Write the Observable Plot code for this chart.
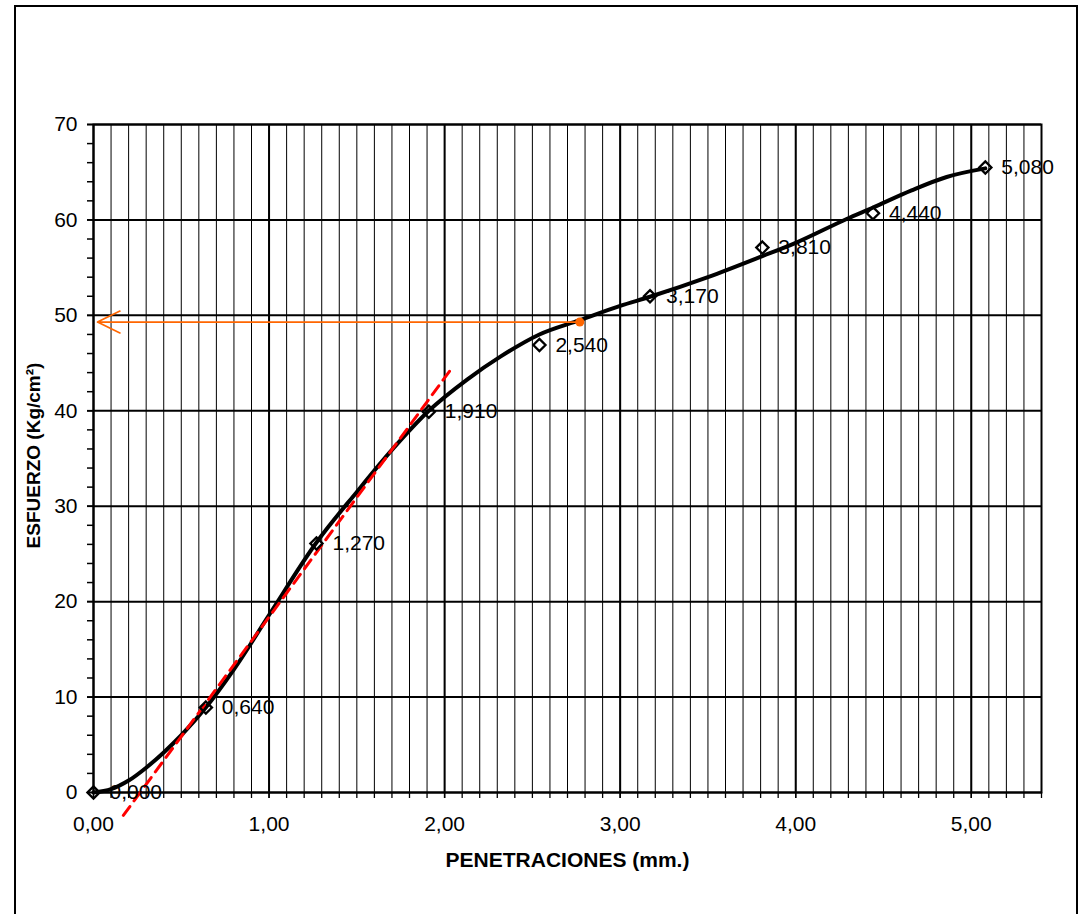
<!DOCTYPE html>
<html>
<head>
<meta charset="utf-8">
<script src="https://cdn.jsdelivr.net/npm/d3@7"></script>
<script src="https://cdn.jsdelivr.net/npm/@observablehq/plot@0.6"></script>
<style>
  html, body { margin: 0; padding: 0; background: #fff; overflow: hidden; }
  #wrap { position: relative; width: 1086px; height: 914px; overflow: hidden; }
  #border { position: absolute; left: 14px; top: 5px; width: 1064px; height: 1000px;
            border: 2px solid #000; box-sizing: border-box; pointer-events: none; }
  #chart { position: absolute; left: 0; top: 0; }
</style>
</head>
<body>
<div id="wrap"><div id="chart"></div><div id="border"></div></div>
<script>
// Measured points (penetración mm, esfuerzo kg/cm²)
const penetracion = [0, 0.64, 1.27, 1.91, 2.54, 3.17, 3.81, 4.44, 5.08];
const esfuerzo    = [0, 8.9, 26.1, 39.9, 46.9, 52.0, 57.1, 60.7, 65.5];
const etiquetas   = ["0,000", "0,640", "1,270", "1,910", "2,540", "3,170", "3,810", "4,440", "5,080"];

// Smoothed fitted curve
const curvaX = [0, 0.10, 0.20, 0.30, 0.40, 0.50, 0.64, 0.80, 1.00, 1.27, 1.50, 1.70, 1.91, 2.13, 2.32, 2.54, 2.77, 3.00, 3.17, 3.50, 3.81, 4.00, 4.29, 4.44, 4.66, 4.86, 5.08];
const curvaY = [0, 0.35, 1.25, 2.6, 4.2, 6.0, 8.9, 12.9, 18.6, 26.2, 31.5, 35.9, 40.0, 43.3, 45.7, 48.0, 49.5, 51.0, 51.95, 54.0, 56.2, 57.6, 60.1, 61.3, 63.1, 64.5, 65.4];

// Tangent (corrección) line
const tangenteX = [0.17, 2.03];
const tangenteY = [-2.4, 44.2];

// Reading at the corrected point
const lecturaX = [2.77];
const lecturaY = [49.3];

// Axis ticks
const xTicks = [0, 1, 2, 3, 4, 5];
const yTicks = [0, 10, 20, 30, 40, 50, 60, 70];
const xMinor = d3.range(0, 55).map(i => i / 10);
const yMinor = d3.range(0, 72, 2);

const puntos = penetracion.map((x, i) => ({x, y: esfuerzo[i], t: etiquetas[i]}));
const curva = curvaX.map((x, i) => ({x, y: curvaY[i]}));
const tangente = tangenteX.map((x, i) => ({x, y: tangenteY[i]}));
const lectura = lecturaX.map((x, i) => ({x, y: lecturaY[i]}));

const fmtX = d => d3.format(".2f")(d).replace(".", ",");
const FONT = "'Liberation Sans', Arial, Helvetica, sans-serif";
const ORANGE = "#ff6600";

const chart = Plot.plot({
  width: 1086,
  height: 914,
  marginLeft: 93,
  marginRight: 45,
  marginTop: 124,
  marginBottom: 122,
  style: {fontFamily: FONT, fontSize: "21px", color: "#000", background: "transparent", overflow: "visible"},
  x: {domain: [0, 5.4], label: null},
  y: {domain: [0, 70], label: null},
  marks: [
    Plot.ruleX(xMinor, {stroke: "#000", strokeWidth: 1}),
    Plot.ruleX(xTicks, {stroke: "#000", strokeWidth: 2}),
    Plot.ruleY(yTicks, {stroke: "#000", strokeWidth: 2}),
    Plot.frame({stroke: "#000", strokeWidth: 2}),
    Plot.axisX(xMinor, {tickSize: 6, tickFormat: () => "", strokeWidth: 1.3}),
    Plot.axisX(xTicks, {tickSize: 6, tickPadding: 18, tickFormat: fmtX, strokeWidth: 1.5, fontSize: 21, label: null}),
    Plot.axisY(yMinor, {tickSize: 6, tickFormat: () => "", strokeWidth: 1.5}),
    Plot.axisY(yTicks, {tickSize: 6, tickPadding: 10, tickFormat: d => String(d), strokeWidth: 1.8, fontSize: 21, label: null}),
    Plot.line(curva, {x: "x", y: "y", curve: "monotone-x", stroke: "#000", strokeWidth: 4}),
    Plot.line(tangente, {x: "x", y: "y", stroke: "#ff0000", strokeWidth: 3, strokeDasharray: "11,7"}),
    Plot.arrow(lectura, {x1: "x", y1: "y", x2: () => 0, y2: "y", bend: 0, stroke: ORANGE, strokeWidth: 1.7,
      headLength: 22, headAngle: 52, insetEnd: 4, insetStart: 0}),
    Plot.dot(lectura, {x: "x", y: "y", r: 4.5, fill: ORANGE, stroke: null}),
    Plot.dot(puntos, {x: "x", y: "y", symbol: "diamond2", r: 5.5, fill: "none", stroke: "#000", strokeWidth: 2.3}),
    Plot.text(puntos, {x: "x", y: "y", text: "t", textAnchor: "start", lineAnchor: "middle", dx: 16, fontSize: 21, fill: "#000"}),
    Plot.text(["PENETRACIONES (mm.)"], {frameAnchor: "bottom", textAnchor: "middle", lineAnchor: "middle", dy: 68, fontWeight: "bold", fontSize: 21, fill: "#000"}),
    Plot.text(["ESFUERZO (Kg/cm²)"], {frameAnchor: "left", textAnchor: "middle", lineAnchor: "middle", dx: -60, dy: -3, rotate: -90, fontWeight: "bold", fontSize: 19, fill: "#000"})
  ]
});
document.getElementById("chart").appendChild(chart);
</script>
</body>
</html>
